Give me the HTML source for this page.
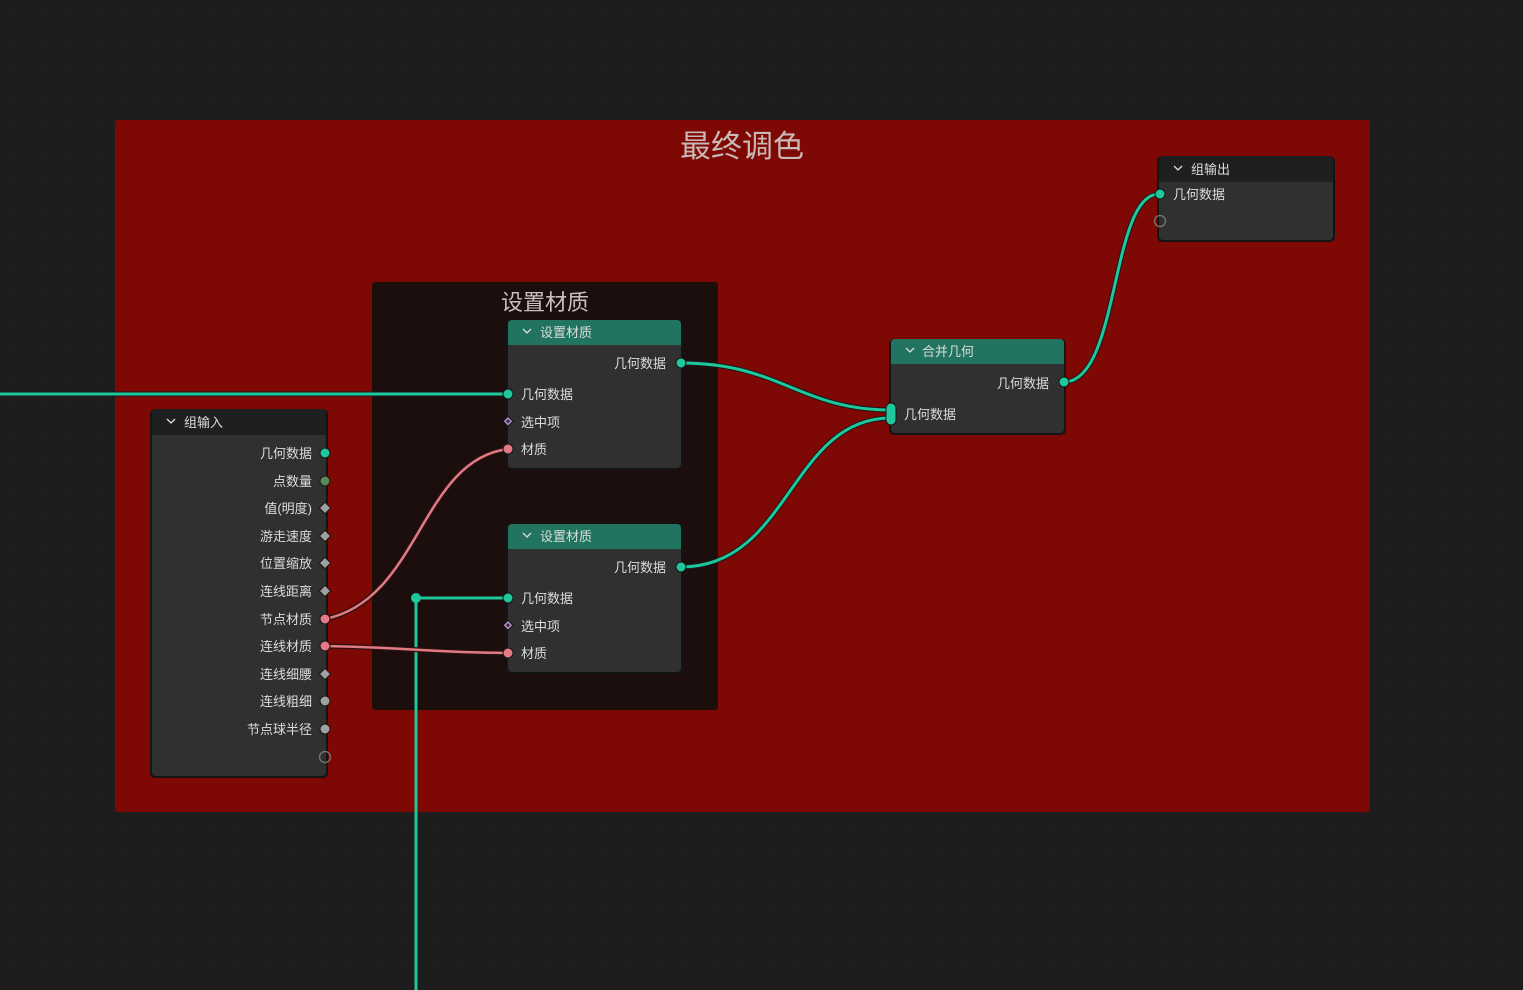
<!DOCTYPE html>
<html><head><meta charset="utf-8"><style>
html,body{margin:0;padding:0;background:#1d1d1d;width:1523px;height:990px;overflow:hidden}
svg{display:block}
text{font-family:"Liberation Sans","Noto Sans CJK SC",sans-serif;fill:#dcdcdc;font-size:13px}
</style></head><body>
<svg width="1523" height="990" viewBox="0 0 1523 990" xmlns="http://www.w3.org/2000/svg">
<defs>
<pattern id="dots" width="28" height="28" patternUnits="userSpaceOnUse"><rect x="13" y="13" width="2" height="2" fill="#262626"/></pattern>
</defs>
<rect width="1523" height="990" fill="#1d1d1d"/>
<rect width="1523" height="990" fill="url(#dots)"/>
<!-- red frame -->
<rect x="115" y="120" width="1255" height="692" rx="3" fill="#7e0804"/>
<text x="742" y="157" text-anchor="middle" style="font-size:31px;fill:#c9b8b6">最终调色</text>
<!-- inner frame -->
<rect x="372" y="282" width="346" height="428" rx="3" fill="#1b0e0d"/>
<text x="545" y="310" text-anchor="middle" style="font-size:22px;fill:#c8c0c0">设置材质</text>

<!-- wires -->
<g fill="none" stroke-linecap="round">
<path d="M0 394 L508 394" stroke="#17181a" stroke-width="5"/>
<path d="M0 394 L508 394" stroke="#1fc79c" stroke-width="3"/>
<path d="M416 990 L416 598 L508 598" stroke="#1fc79c" stroke-width="3"/>
<path d="M325 619 C420 600 420 460 508 449" stroke="#2a1010" stroke-width="5"/>
<path d="M325 619 C420 600 420 460 508 449" stroke="#e07b84" stroke-width="2.5"/>
<path d="M325 646 C420 648 420 652 508 653" stroke="#2a1010" stroke-width="5"/>
<path d="M325 646 C420 648 420 652 508 653" stroke="#e07b84" stroke-width="2.5"/>
<path d="M681 363 C780 363 800 410 891 410" stroke="#1a1a1a" stroke-width="5"/>
<path d="M681 363 C780 363 800 410 891 410" stroke="#1fc79c" stroke-width="3"/>
<path d="M681 567 C790 567 790 418 891 418" stroke="#1a1a1a" stroke-width="5"/>
<path d="M681 567 C790 567 790 418 891 418" stroke="#1fc79c" stroke-width="3"/>
<path d="M1064 382 C1120 382 1110 194 1159 194" stroke="#1a1a1a" stroke-width="5"/>
<path d="M1064 382 C1120 382 1110 194 1159 194" stroke="#1fc79c" stroke-width="3"/>
</g>
<circle cx="416" cy="598" r="5" fill="#1fc79c"/>

<!-- group input -->
<g>
<rect x="150" y="409" width="178" height="369" rx="5" fill="#141414"/>
<rect x="152" y="409" width="174" height="367" rx="4" fill="#303030"/>
<path d="M152 435 V413 a4 4 0 0 1 4 -4 H322 a4 4 0 0 1 4 4 V435 Z" fill="#1f1f1f"/>
<path d="M167 419 l4 4 l4 -4" stroke="#ddd" fill="none" stroke-width="1.3"/>
<text x="184" y="427">组输入</text>
<g text-anchor="end">
<text x="312" y="458">几何数据</text><text x="312" y="486">点数量</text><text x="312" y="513">值(明度)</text>
<text x="312" y="541">游走速度</text><text x="312" y="568">位置缩放</text><text x="312" y="596">连线距离</text>
<text x="312" y="624">节点材质</text><text x="312" y="651">连线材质</text><text x="312" y="679">连线细腰</text>
<text x="312" y="706">连线粗细</text><text x="312" y="734">节点球半径</text>
</g>
<g stroke="#161616" stroke-width="1">
<circle cx="325" cy="453" r="5" fill="#1fc79c"/>
<circle cx="325" cy="481" r="5" fill="#578a57"/>
<rect x="321" y="504" width="8" height="8" fill="#a0a0a0" transform="rotate(45 325 508)"/>
<rect x="321" y="532" width="8" height="8" fill="#a0a0a0" transform="rotate(45 325 536)"/>
<rect x="321" y="559" width="8" height="8" fill="#a0a0a0" transform="rotate(45 325 563)"/>
<rect x="321" y="587" width="8" height="8" fill="#a0a0a0" transform="rotate(45 325 591)"/>
<circle cx="325" cy="619" r="5" fill="#e57a86"/>
<circle cx="325" cy="646" r="5" fill="#e57a86"/>
<rect x="321" y="670" width="8" height="8" fill="#a0a0a0" transform="rotate(45 325 674)"/>
<circle cx="325" cy="701" r="5" fill="#a0a0a0"/>
<circle cx="325" cy="729" r="5" fill="#a0a0a0"/>
</g>
<circle cx="325" cy="757" r="5.5" fill="none" stroke="#777" stroke-width="1.3"/>
</g>

<!-- set material nodes -->
<g id="sm1">
<rect x="506" y="320" width="177" height="150" rx="5" fill="#141414"/>
<rect x="508" y="320" width="173" height="148" rx="4" fill="#303030"/>
<path d="M508 345 V324 a4 4 0 0 1 4 -4 H677 a4 4 0 0 1 4 4 V345 Z" fill="#217560"/>
<path d="M523 329 l4 4 l4 -4" stroke="#ddd" fill="none" stroke-width="1.3"/>
<text x="540" y="337">设置材质</text>
<text x="666" y="368" text-anchor="end">几何数据</text>
<text x="521" y="399">几何数据</text><text x="521" y="427">选中项</text><text x="521" y="454">材质</text>
<circle cx="681" cy="363" r="5" fill="#1fc79c" stroke="#161616"/>
<circle cx="508" cy="394" r="5" fill="#1fc79c" stroke="#161616"/>
<rect x="504" y="418" width="7" height="7" fill="#b48ad0" stroke="#161616" transform="rotate(45 508 422)"/>
<rect x="506" y="420" width="3" height="3" fill="#303030" transform="rotate(45 508 422)"/>
<circle cx="508" cy="449" r="5" fill="#e57a86" stroke="#161616"/>
</g>
<g transform="translate(0 204)">
<rect x="506" y="320" width="177" height="150" rx="5" fill="#141414"/>
<rect x="508" y="320" width="173" height="148" rx="4" fill="#303030"/>
<path d="M508 345 V324 a4 4 0 0 1 4 -4 H677 a4 4 0 0 1 4 4 V345 Z" fill="#217560"/>
<path d="M523 329 l4 4 l4 -4" stroke="#ddd" fill="none" stroke-width="1.3"/>
<text x="540" y="337">设置材质</text>
<text x="666" y="368" text-anchor="end">几何数据</text>
<text x="521" y="399">几何数据</text><text x="521" y="427">选中项</text><text x="521" y="454">材质</text>
<circle cx="681" cy="363" r="5" fill="#1fc79c" stroke="#161616"/>
<circle cx="508" cy="394" r="5" fill="#1fc79c" stroke="#161616"/>
<rect x="504" y="418" width="7" height="7" fill="#b48ad0" stroke="#161616" transform="rotate(45 508 422)"/>
<rect x="506" y="420" width="3" height="3" fill="#303030" transform="rotate(45 508 422)"/>
<circle cx="508" cy="449" r="5" fill="#e57a86" stroke="#161616"/>
</g>

<!-- merge geometry -->
<rect x="889" y="339" width="177" height="96" rx="5" fill="#141414"/>
<rect x="891" y="339" width="173" height="94" rx="4" fill="#303030"/>
<path d="M891 364 V343 a4 4 0 0 1 4 -4 H1060 a4 4 0 0 1 4 4 V364 Z" fill="#217560"/>
<path d="M906 348 l4 4 l4 -4" stroke="#ddd" fill="none" stroke-width="1.3"/>
<text x="922" y="356">合并几何</text>
<text x="1049" y="388" text-anchor="end">几何数据</text>
<text x="904" y="419">几何数据</text>
<circle cx="1064" cy="382" r="5" fill="#1fc79c" stroke="#161616"/>
<rect x="886" y="403" width="10" height="22" rx="5" fill="#1fc79c" stroke="#161616"/>

<!-- group output -->
<rect x="1157" y="156" width="178" height="86" rx="5" fill="#141414"/>
<rect x="1159" y="156" width="174" height="84" rx="4" fill="#303030"/>
<path d="M1159 182 V160 a4 4 0 0 1 4 -4 H1329 a4 4 0 0 1 4 4 V182 Z" fill="#1f1f1f"/>
<path d="M1174 166 l4 4 l4 -4" stroke="#ddd" fill="none" stroke-width="1.3"/>
<text x="1191" y="174">组输出</text>
<text x="1173" y="199">几何数据</text>
<circle cx="1160" cy="194" r="5" fill="#1fc79c" stroke="#161616"/>
<circle cx="1160" cy="221" r="5.5" fill="none" stroke="#777" stroke-width="1.3"/>
</svg>
</body></html>
